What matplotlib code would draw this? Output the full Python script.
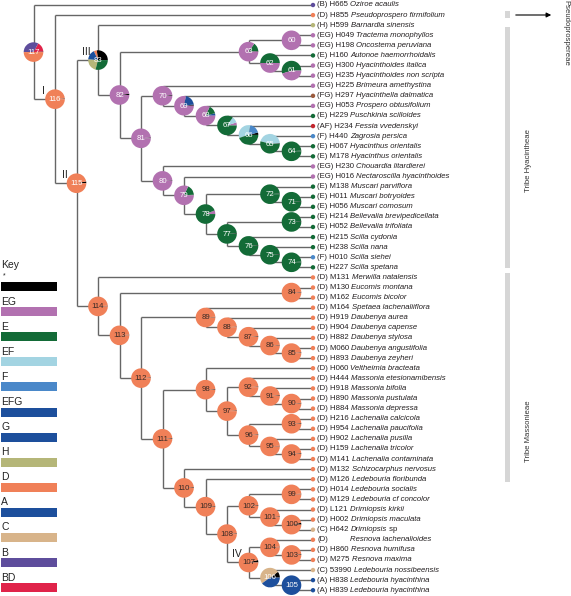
import matplotlib
matplotlib.use('Agg')
import matplotlib.pyplot as plt
from matplotlib.patches import Wedge, Circle, Rectangle

plt.rcParams['font.family'] = ['Liberation Sans', 'DejaVu Sans']

# tips, top to bottom
tip_states = ['B', 'D', 'H', 'EG', 'EG', 'E', 'EG', 'EG', 'EG', 'FG', 'EG', 'E', 'AF', 'F',
              'E', 'E', 'EG', 'EG', 'E', 'E', 'E', 'E', 'E', 'E', 'E', 'F', 'E',
              'D', 'D', 'D', 'D', 'D', 'D', 'D', 'D', 'D', 'D', 'D', 'D', 'D', 'D',
              'D', 'D', 'D', 'D', 'D', 'D', 'D', 'D', 'D', 'D', 'D', 'C', 'D', 'D',
              'D', 'C', 'A', 'A']
tip_ids = ['H665', 'H855', 'H599', 'H049', 'H198', 'H160', 'H300', 'H235', 'H225', 'H297',
           'H053', 'H229', 'H234', 'H440', 'H067', 'M178', 'H230', 'H016', 'M138', 'H011',
           'H056', 'H214', 'H052', 'H215', 'H238', 'H010', 'H227', 'M131', 'M130', 'M162',
           'M164', 'H919', 'H904', 'H882', 'M060', 'H893', 'H060', 'H444', 'H918', 'H890',
           'H884', 'H216', 'H954', 'H902', 'H159', 'M141', 'M132', 'M126', 'H014', 'M129',
           'L121', 'H002', 'H642', '', 'H860', 'M275', '53990', 'H838', 'H839']
tip_names = ['Oziroe acaulis', 'Pseudoprospero firmifolium', 'Barnardia sinensis',
             'Tractema monophyllos', 'Oncostema peruviana', 'Autonoe haemorrhoidalis',
             'Hyacinthoides italica', 'Hyacinthoides non scripta', 'Brimeura amethystina',
             'Hyacinthella dalmatica', 'Prospero obtusifolium', 'Puschkinia scilloides',
             'Fessia vvedenskyi', 'Zagrosia persica', 'Hyacinthus orientalis',
             'Hyacinthus orientalis', 'Chouardia litardierei', 'Nectaroscilla hyacinthoides',
             'Muscari parviflora', 'Muscari botryoides', 'Muscari comosum',
             'Bellevalia brevipedicellata', 'Bellevalia trifoliata', 'Scilla cydonia',
             'Scilla nana', 'Scilla siehei', 'Scilla spetana', 'Merwilla natalensis',
             'Eucomis montana', 'Eucomis bicolor', 'Spetaea lachenaliiflora', 'Daubenya aurea',
             'Daubenya capense', 'Daubenya stylosa', 'Daubenya angustifolia', 'Daubenya zeyheri',
             'Veltheimia bracteata', 'Massonia etesionamibensis', 'Massonia bifolia',
             'Massonia pustulata', 'Massonia depressa', 'Lachenalia calcicola',
             'Lachenalia paucifolia', 'Lachenalia pusilla', 'Lachenalia tricolor',
             'Lachenalia contaminata', 'Schizocarphus nervosus', 'Ledebouria floribunda',
             'Ledebouria socialis', 'Ledebouria cf concolor', 'Drimiopsis kirkii',
             'Drimiopsis maculata', 'Drimiopsis sp', 'Resnova lachenalioides',
             'Resnova humifusa', 'Resnova maxima', 'Ledebouria nossibeensis',
             'Ledebouria hyacinthina', 'Ledebouria hyacinthina']

# node -> (upper child, lower child); ints are tips, strings are nodes
clades = {
    '117': (0, '116'), '116': (1, '115'), '115': ('83', '114'),
    '83': (2, '82'), '82': ('63', '81'), '63': ('60', '62'), '60': (3, 4),
    '62': (5, '61'), '61': (6, 7), '81': ('70', '80'), '70': (8, '69'),
    '69': (9, '68'), '68': (10, '67'), '67': (11, '66'), '66': (12, '65'),
    '65': (13, '64'), '64': (14, 15), '80': (16, '79'), '79': (17, '78'),
    '78': ('72', '77'), '72': (18, '71'), '71': (19, 20), '77': ('73', '76'),
    '73': (21, 22), '76': (23, '75'), '75': (24, '74'), '74': (25, 26),
    '114': (27, '113'), '113': ('84', '112'), '84': (28, 29), '112': ('89', '111'),
    '89': (30, '88'), '88': (31, '87'), '87': (32, '86'), '86': (33, '85'),
    '85': (34, 35), '111': ('98', '110'), '98': (36, '97'), '97': ('92', '96'),
    '92': (37, '91'), '91': (38, '90'), '90': (39, 40), '96': ('93', '95'),
    '93': (41, 42), '95': (43, '94'), '94': (44, 45), '110': (46, '109'),
    '109': (47, '108'), '108': ('102', '107'), '102': ('99', '101'), '99': (48, 49),
    '101': (50, '100'), '100': (51, 52), '107': ('104', '106'), '104': (53, '103'),
    '103': (54, 55), '106': (56, '105'), '105': (57, 58),
}

# ancestral state pies (fractions, counter-clockwise from east)
mixed_pies = {
    '117': [('*', .01), ('BD', .16), ('B', .33), ('D', .50)],
    '116': [('*', .012), ('D', .988)],
    '115': [('*', .03), ('D', .97)],
    '83': [('*', .27), ('D', .05), ('G', .17), ('H', .22), ('E', .29)],
    '82': [('*', .02), ('EG', .98)],
    '81': [('*', .015), ('EG', .985)],
    '80': [('*', .01), ('EG', .99)],
    '79': [('*', .01), ('E', .17), ('EG', .82)],
    '78': [('EG', .06), ('E', .94)],
    '70': [('*', .015), ('EG', .985)],
    '69': [('*', .02), ('G', .2), ('EG', .78)],
    '68': [('G', .04), ('E', .14), ('EG', .82)],
    '67': [('EG', .05), ('EF', .1), ('E', .85)],
    '66': [('*', .04), ('F', .18), ('EF', .33), ('E', .45)],
    '65': [('*', .01), ('EF', .45), ('E', .54)],
    '63': [('*', .01), ('E', .14), ('EG', .85)],
    '62': [('E', .5), ('EG', .5)],
    '61': [('E', .55), ('EG', .45)],
    '60': [('EG', 1.0)],
    '107': [('*', .04), ('D', .96)],
    '100': [('*', .03), ('D', .97)],
    '106': [('*', .1), ('C', .5), ('A', .4)],
    '105': [('A', 1.0)],
}
green_nodes = ['64', '71', '72', '73', '74', '75', '76', '77']

key_states = ['*', 'EG', 'E', 'EF', 'F', 'EFG', 'G', 'H', 'D', 'A', 'C', 'B', 'BD']
colors = {'*': '#000000', 'EG': '#b271b0', 'E': '#136b37', 'EF': '#a3d4e2',
          'F': '#4a88c9', 'EFG': '#1d4f9c', 'G': '#1d4f9c', 'H': '#b5b678',
          'D': '#f08058', 'A': '#1d4f9c', 'C': '#d8b48a', 'B': '#5e4d9c',
          'BD': '#e0234a', 'FG': '#9b5a3c', 'AF': '#c3262e'}

roman = {'116': 'I', '115': 'II', '83': 'III', '107': 'IV'}

TIP_X, Y0, DY, STEP, R = 313, 5, 10.09, 21.5, 9.8

pos = {}


def place(n):
    if isinstance(n, int):
        return TIP_X, Y0 + n * DY
    if n in pos:
        return pos[n]
    pts = [place(c) for c in clades[n]]
    pos[n] = (min(p[0] for p in pts) - STEP, sum(p[1] for p in pts) / len(pts))
    return pos[n]


place('117')

fig = plt.figure(figsize=(5.71, 5.96), dpi=100)
ax = fig.add_axes([0, 0, 1, 1])
ax.set_xlim(0, 571)
ax.set_ylim(596, 0)
ax.axis('off')

line_kw = dict(color='#666666', lw=1.0, zorder=1, solid_capstyle='butt')
for n, kids in clades.items():
    x, y = pos[n]
    pts = [place(c) for c in kids]
    ax.plot([x, x], [pts[0][1], pts[-1][1]], **line_kw)
    for cx, cy in pts:
        ax.plot([x, cx], [cy, cy], **line_kw)

# node pies
for n, (x, y) in pos.items():
    if n in mixed_pies:
        parts = mixed_pies[n]
    elif n in green_nodes:
        parts = [('*', .012), ('E', .988)]
    else:
        parts = [('*', .012), ('D', .988)]
    a = 0.0
    for st, f in parts:
        b = a + 360 * f
        ax.add_patch(Wedge((x, y), R, -b, -a, facecolor=colors[st], lw=0, zorder=3))
        a = b
    dark = parts[-1][0] == 'D' and 84 <= int(n) <= 114 and n != '107' or n == '107'
    ax.text(x, y + 0.3, n, ha='center', va='center', fontsize=5.6,
            color='#3a2a25' if dark else 'white', zorder=4)
    if n in roman:
        ax.text(x - 12, y - 8, roman[n], ha='center', va='center', fontsize=7.5,
                color='#222222', zorder=4)

# tips
renderer = fig.canvas.get_renderer()
for i, st in enumerate(tip_states):
    x, y = place(i)
    ax.add_patch(Circle((x, y), 2.2, facecolor=colors[st], lw=0, zorder=3))
    tx = x + 4
    pre = ax.text(tx, y, f'({st}) {tip_ids[i]} ' if tip_ids[i] else f'({st}) H000 ',
                  fontsize=5.6, va='center', ha='left', color='#231f20')
    w = pre.get_window_extent(renderer).width
    if not tip_ids[i]:
        pre.set_text(f'({st})')
    name = tip_names[i]
    suffix = ''
    if name.endswith(' sp'):
        name, suffix = name[:-3], ' sp'
    it = ax.text(tx + w, y, name, fontsize=5.6, style='italic', va='center', ha='left',
                 color='#231f20')
    if suffix:
        w2 = it.get_window_extent(renderer).width
        ax.text(tx + w + w2, y, suffix, fontsize=5.6, va='center', ha='left', color='#231f20')

# key
ax.text(1, 265, 'Key', fontsize=7.5, va='center', ha='left', color='#222222')
for k, st in enumerate(key_states):
    top = 282 + k * 25.1
    ax.add_patch(Rectangle((1, top), 56, 9, facecolor=colors[st], lw=0))
    if st == '*':
        ax.text(3, top - 6, '*', fontsize=5, va='center', ha='left', color='#222222')
    else:
        ax.text(1, top - 5.5, st, fontsize=7.5, va='center', ha='left', color='#222222')

# tribe bars and labels
for y1, y2 in [(11, 18), (27, 268), (273, 482)]:
    ax.add_patch(Rectangle((505, y1), 5, y2 - y1, facecolor='#d6d6d6', lw=0))
ax.annotate('', xy=(554, 15), xytext=(513, 15),
            arrowprops=dict(arrowstyle='-|>', color='black', lw=0.8, mutation_scale=7))
ax.text(566, 33, 'Pseudoprospereae', rotation=270, fontsize=5.6, ha='center', va='center',
        color='#333333')
ax.text(528, 160, 'Tribe Hyacintheae', rotation=90, fontsize=5.6, ha='center', va='center',
        color='#333333')
ax.text(528, 431, 'Tribe Massonieae', rotation=90, fontsize=5.6, ha='center', va='center',
        color='#333333')

fig.savefig('out.png', dpi=100)
